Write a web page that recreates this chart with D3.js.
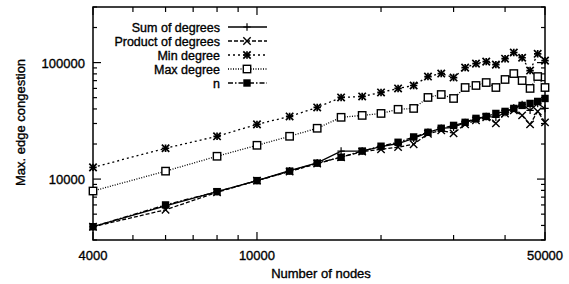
<!DOCTYPE html>
<html>
<head>
<meta charset="utf-8">
<script src="https://cdn.jsdelivr.net/npm/d3@7"></script>
<style>
body { margin: 0; background: #fff; }
text { font-family: "Liberation Sans", Arial, sans-serif; fill: #000; stroke: #000; stroke-width: 0.35px; }
</style>
</head>
<body>
<div id="chart"></div>
<script>
// number of nodes
var nodes = [4000, 6000, 8000, 10000, 12000, 14000, 16000, 18000, 20000, 22000, 24000, 26000,
	28000, 30000, 32000, 34000, 36000, 38000, 40000, 42000, 44000, 46000, 48000, 50000];

var sumDeg = [3900, 5900, 7800, 9700, 11800, 13800, 17400, 17400, 19000, 20200, 22400, 25200,
	27300, 27800, 30700, 32500, 34500, 33900, 37300, 41000, 43700, 38900, 44600, 40400];
var prodDeg = [3900, 5450, 7700, 9700, 11600, 13600, 15400, 17200, 18000, 18800, 19900, 24500,
	26200, 24700, 29500, 31900, 33900, 30100, 36600, 38900, 35200, 29500, 38100, 30700];
var minDeg = [12600, 18400, 23300, 29500, 34500, 41200, 50200, 51200, 55400, 60000, 63600, 75900,
	80500, 74400, 90600, 98000, 102000, 96100, 108000, 122000, 110000, 85400, 119000, 104000];
var maxDeg = [7900, 11700, 15700, 19500, 23300, 27300, 33900, 35200, 36600, 39700, 40400, 50200,
	53200, 49200, 61100, 63600, 67400, 61100, 71600, 80500, 70100, 60000, 75900, 61100];
var nVals = [3900, 6000, 7800, 9700, 11700, 13700, 15400, 17400, 19150, 20700, 23000, 25200,
	27300, 28900, 30700, 33200, 34500, 36600, 38100, 40400, 42900, 44600, 46400, 49200];

var xTickLabels = [4000, 10000, 50000];
var xMinorTicks = [5000, 6000, 7000, 8000, 9000, 20000, 30000, 40000];
var yTickLabels = [10000, 100000];
var yMinorTicks = [3000, 4000, 5000, 6000, 7000, 8000, 9000, 20000, 30000, 40000, 50000,
	60000, 70000, 80000, 90000, 200000, 300000];

var series = [
	{name: 'Sum of degrees', values: sumDeg, dash: null, marker: 'plus'},
	{name: 'Product of degrees', values: prodDeg, dash: '4,2', marker: 'cross'},
	{name: 'Min degree', values: minDeg, dash: '2,3', marker: 'star'},
	{name: 'Max degree', values: maxDeg, dash: '1,1.5', marker: 'box'},
	{name: 'n', values: nVals, dash: '5,2,1.5,2', marker: 'fbox'}
];

var width = 569, height = 284;
var margin = {left: 93, right: 24, top: 7, bottom: 44};

var svg = d3.select("#chart").append("svg")
	.attr("width", width)
	.attr("height", height);

var x = d3.scaleLog().domain([4000, 50000]).range([margin.left, width - margin.right]);
var y = d3.scaleLog().domain([3000, 300000]).range([height - margin.bottom, margin.top]);

var x0 = x.range()[0], x1 = x.range()[1], y0 = y.range()[0], y1 = y.range()[1];

// ticks, mirrored inside on all sides
var tickG = svg.append("g").attr("stroke", "#000").attr("stroke-width", 1.2);

function xTick(v, len) {
	tickG.append("line").attr("x1", x(v)).attr("x2", x(v)).attr("y1", y0).attr("y2", y0 - len);
	tickG.append("line").attr("x1", x(v)).attr("x2", x(v)).attr("y1", y1).attr("y2", y1 + len);
}
function yTick(v, len) {
	tickG.append("line").attr("y1", y(v)).attr("y2", y(v)).attr("x1", x0).attr("x2", x0 + len);
	tickG.append("line").attr("y1", y(v)).attr("y2", y(v)).attr("x1", x1).attr("x2", x1 - len);
}
xTickLabels.forEach(function(v) { xTick(v, 8); });
xMinorTicks.forEach(function(v) { xTick(v, 5); });
yTickLabels.forEach(function(v) { yTick(v, 8); });
yMinorTicks.forEach(function(v) { yTick(v, 4); });

svg.selectAll(".xlab")
	.data(xTickLabels)
	.enter()
		.append("text")
			.attr("class", "xlab")
			.attr("x", function(d) { return x(d); })
			.attr("y", y0 + 20)
			.attr("text-anchor", "middle")
			.style("font-size", "13px")
			.text(function(d) { return d; });

svg.selectAll(".ylab")
	.data(yTickLabels)
	.enter()
		.append("text")
			.attr("class", "ylab")
			.attr("x", x0 - 8)
			.attr("y", function(d) { return y(d) + 5; })
			.attr("text-anchor", "end")
			.style("font-size", "13px")
			.text(function(d) { return d; });

// frame
svg.append("rect")
	.attr("x", x0).attr("y", y1)
	.attr("width", x1 - x0).attr("height", y0 - y1)
	.attr("fill", "none").attr("stroke", "#000").attr("stroke-width", 1.5);

// axis titles
svg.append("text")
	.attr("x", (x0 + x1) / 2 + 2)
	.attr("y", height - 6)
	.attr("text-anchor", "middle")
	.style("font-size", "13px")
	.text("Number of nodes");

svg.append("text")
	.attr("transform", "translate(25," + ((y0 + y1) / 2 - 1) + ") rotate(-90)")
	.attr("text-anchor", "middle")
	.style("font-size", "13px")
	.text("Max. edge congestion");

function drawMarker(g, type, cx, cy) {
	var s = 3.7;
	if(type == 'plus' || type == 'star') {
		g.append("path").attr("d", "M" + (cx - s) + "," + cy + "h" + (2 * s) + "M" + cx + "," + (cy - s) + "v" + (2 * s))
			.attr("stroke", "#000").attr("stroke-width", type == 'star' ? 1.7 : 1.2);
	}
	if(type == 'cross' || type == 'star') {
		g.append("path").attr("d", "M" + (cx - s) + "," + (cy - s) + "l" + (2 * s) + "," + (2 * s) + "M" + (cx - s) + "," + (cy + s) + "l" + (2 * s) + "," + (-2 * s))
			.attr("stroke", "#000").attr("stroke-width", type == 'star' ? 1.7 : 1.4);
	}
	if(type == 'box') {
		g.append("rect").attr("x", cx - s).attr("y", cy - s).attr("width", 2 * s).attr("height", 2 * s)
			.attr("fill", "#fff").attr("stroke", "#000").attr("stroke-width", 1.4);
	}
	if(type == 'fbox') {
		g.append("rect").attr("x", cx - s).attr("y", cy - s).attr("width", 2 * s).attr("height", 2 * s)
			.attr("fill", "#000");
	}
}

var line = d3.line()
	.x(function(d) { return x(d[0]); })
	.y(function(d) { return y(d[1]); });

var plot = svg.append("g");

series.forEach(function(s) {
	var pts = nodes.map(function(n, i) { return [n, s.values[i]]; });
	plot.append("path")
		.datum(pts)
		.attr("d", line)
		.attr("fill", "none")
		.attr("stroke", "#000")
		.attr("stroke-width", 1.3)
		.attr("stroke-dasharray", s.dash);
	var mg = plot.append("g");
	pts.forEach(function(p) { drawMarker(mg, s.marker, x(p[0]), y(p[1])); });
});

// legend
var legend = svg.append("g");
series.forEach(function(s, i) {
	var ly = 27 + i * 14;
	legend.append("text")
		.attr("x", 220)
		.attr("y", ly + 4.5)
		.attr("text-anchor", "end")
		.style("font-size", "12.5px")
		.text(s.name);
	legend.append("line")
		.attr("x1", 228).attr("x2", 267)
		.attr("y1", ly).attr("y2", ly)
		.attr("stroke", "#000").attr("stroke-width", 1.3)
		.attr("stroke-dasharray", s.dash);
	drawMarker(legend, s.marker, 247, ly);
});
</script>
</body>
</html>
